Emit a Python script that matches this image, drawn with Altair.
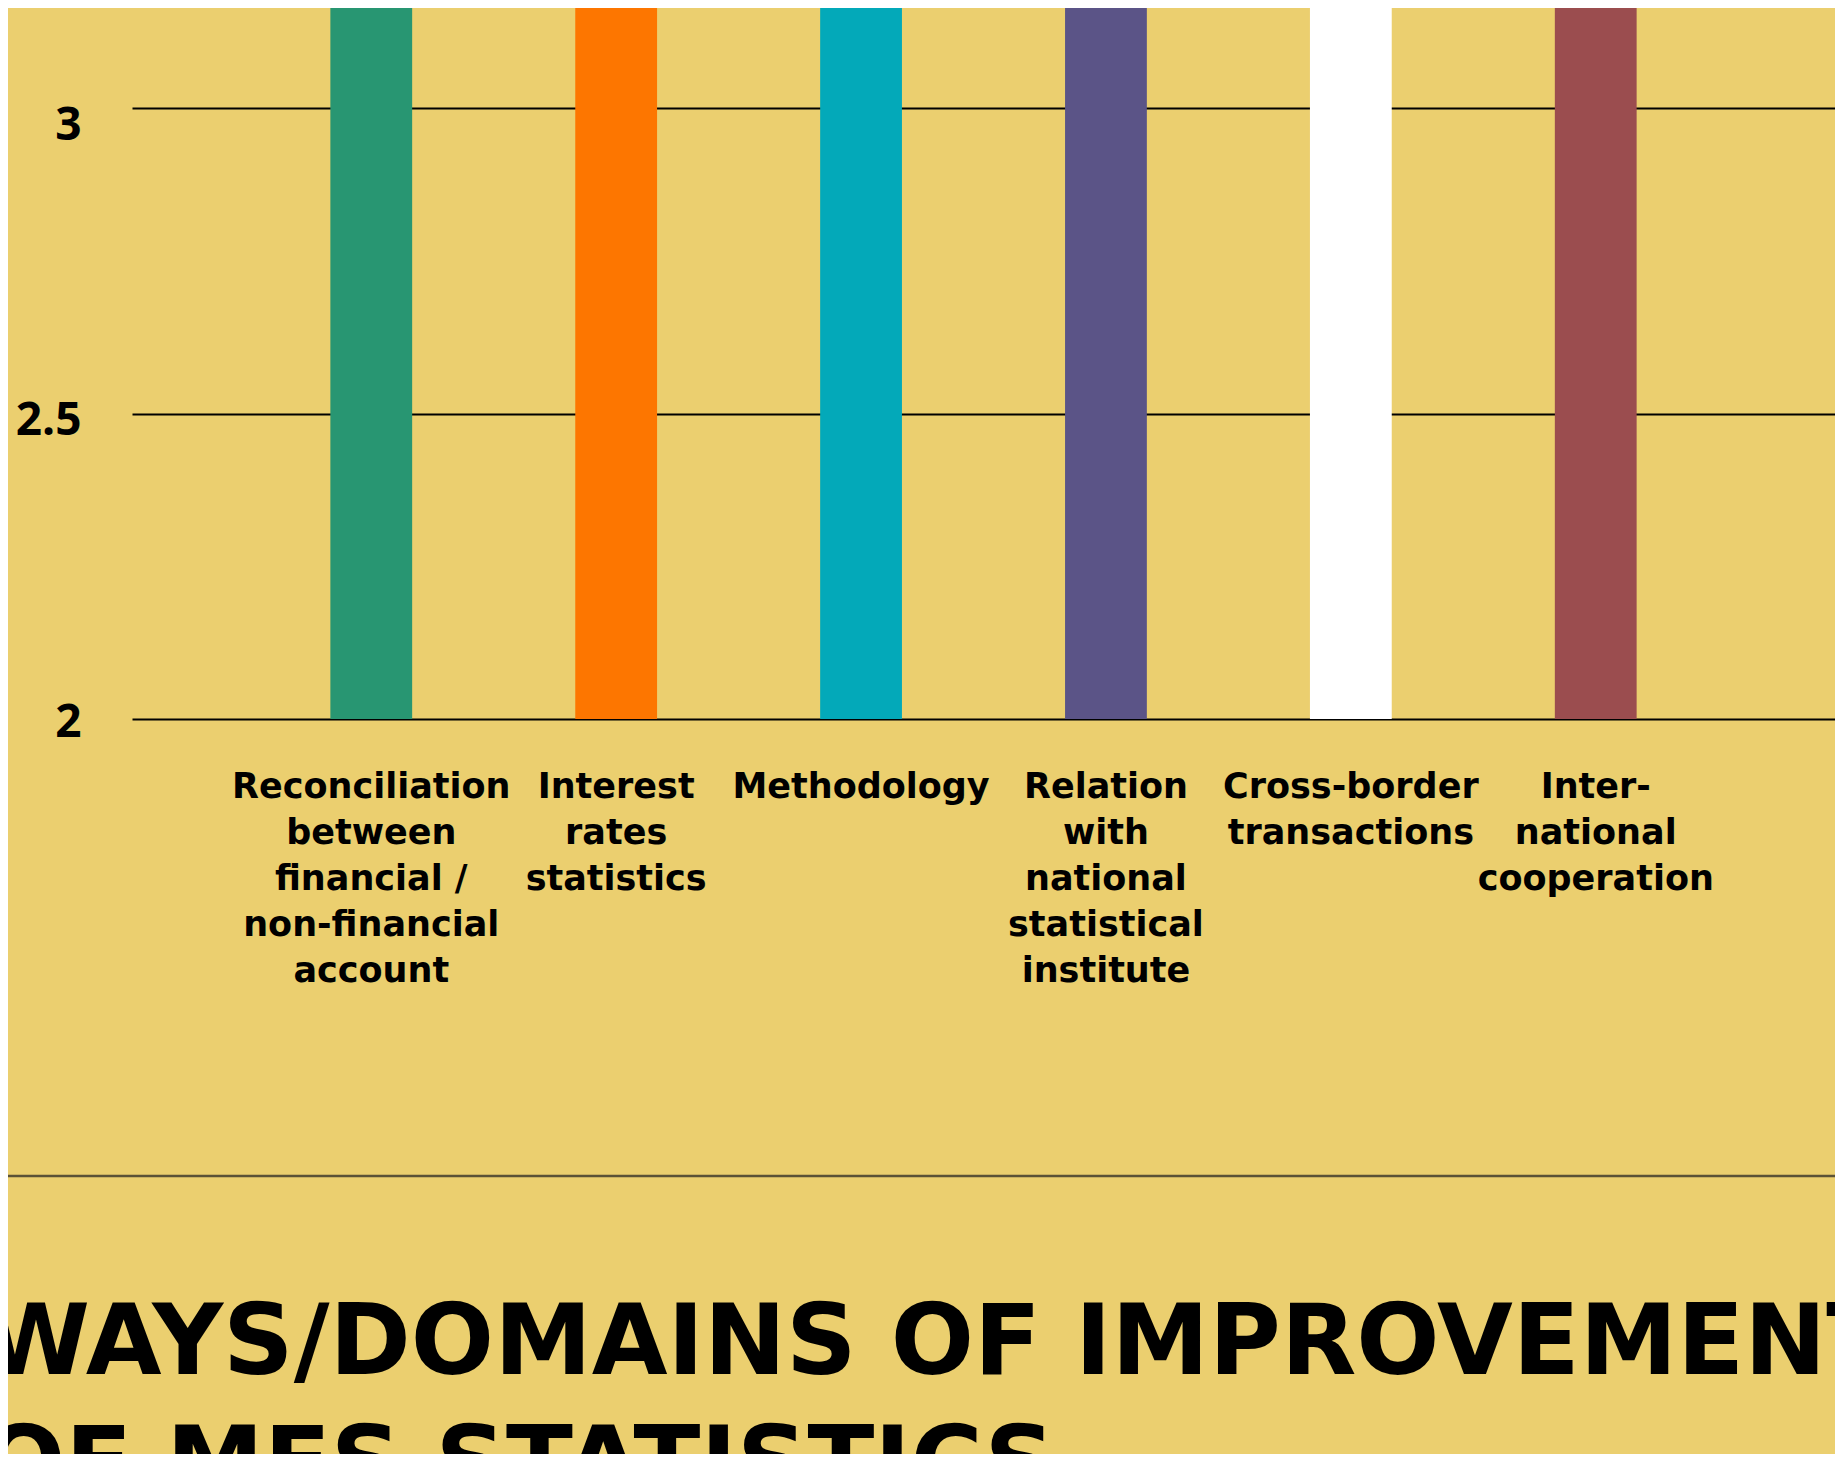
import altair as alt
import pandas as pd

categories = [
    "Reconciliation|between|financial /|non-financial|account",
    "Interest|rates|statistics",
    "Methodology",
    "Relation|with|national|statistical|institute",
    "Cross-border|transactions",
    "Inter-|national|cooperation",
]
values = [3.167, 3.35, 3.45, 3.3, 3.4, 3.25]
colors = ["#289672", "#FD7600", "#03A9B9", "#5B5487", "#FFFFFF", "#9B4D4F"]
y_ticks = [2, 2.5, 3]
title_lines = ["WAYS/DOMAINS OF IMPROVEMENT", "OF MFS STATISTICS"]

BG = "#EBCF6F"
NUM_FONT = "Open Sans"
FONT = "DejaVu Sans"

df = pd.DataFrame({"cat": categories, "value": values})

W = 1703
H = 711

bars = alt.Chart(df).mark_bar(clip=True).encode(
    x=alt.X(
        "cat:N",
        sort=None,
        title=None,
        scale=alt.Scale(paddingInner=0.666, paddingOuter=0.81),
        axis=alt.Axis(
            labelExpr="split(datum.label, '|')",
            labelAngle=0,
            labelBaseline="top",
            labelPadding=50,
            labelFont=FONT,
            labelFontSize=35,
            labelFontWeight="bold",
            labelColor="#000000",
            labelLineHeight=46,
            labelLimit=0,
            labelOverlap=False,
            domain=False,
            ticks=False,
            tickSize=0,
            grid=False,
        ),
    ),
    y=alt.Y(
        "value:Q",
        title=None,
        scale=alt.Scale(domain=[2, 3.164], nice=False, zero=False),
        axis=alt.Axis(
            values=y_ticks,
            format=".1~f",
            labelFont=NUM_FONT,
            labelFontSize=46,
            labelFontWeight="bold",
            labelColor="#000000",
            labelPadding=51,
            labelAlign="right",
            labelBaseline="middle",
            labelOffset={
                "condition": [
                    {"test": "datum.value == 3", "value": 17},
                    {"test": "datum.value == 2.5", "value": 7},
                ],
                "value": 3,
            },
            domain=False,
            ticks=False,
            tickSize=0,
            grid=True,
            gridColor="#000000",
            gridWidth=2,
        ),
    ),
    color=alt.Color("cat:N", sort=None, scale=alt.Scale(domain=categories, range=colors), legend=None),
)

sep = alt.Chart(pd.DataFrame({"k": [0]})).mark_rule(color="#5B5236", strokeWidth=2.5).encode(
    x=alt.value(-140), x2=alt.value(W + 20), y=alt.value(1168)
)

title = alt.Chart(pd.DataFrame({"k": [0]})).mark_text(
    align="left",
    baseline="top",
    font=FONT,
    fontSize=98,
    fontWeight="bold",
    color="#000000",
    lineHeight=122,
).encode(
    x=alt.value(-150),
    y=alt.value(1289),
    text=alt.value(title_lines),
)

chart = alt.layer(bars, sep, title).properties(
    width=W,
    height=H,
    background=BG,
    autosize=alt.AutoSizeParams(type="none"),
    padding={"left": 124, "top": 0, "right": 0, "bottom": 735},
).configure_view(stroke=None)

chart.save("out.html", embed_options={"renderer": "svg", "actions": False})
